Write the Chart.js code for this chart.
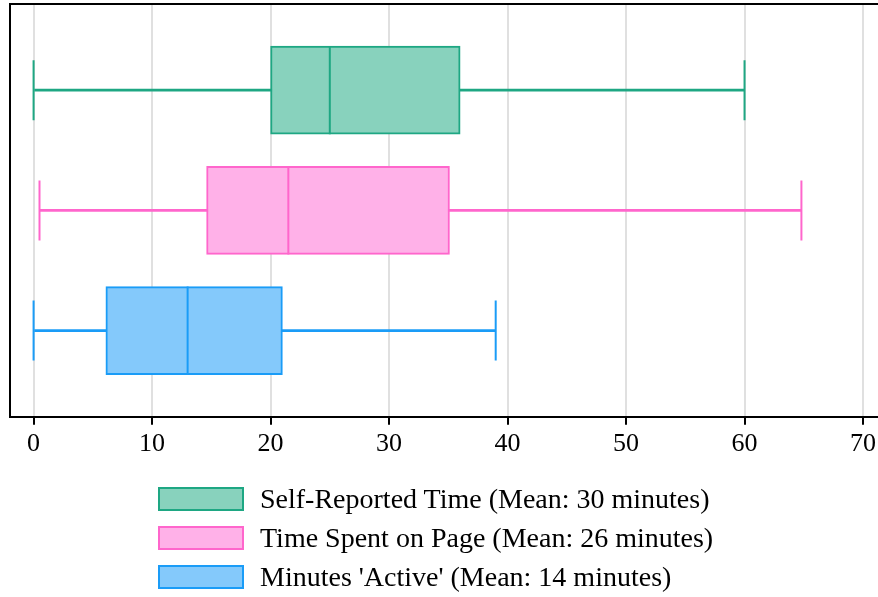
<!DOCTYPE html>
<html>
<head>
<meta charset="utf-8">
<script src="https://cdn.jsdelivr.net/npm/chart.js@4"></script>
<style>
  body { margin: 0; background: #fff; }
  #wrap { position: relative; width: 878px; height: 597px; overflow: hidden; }
  #legend { position: absolute; left: 158px; top: 479px; font-family: "Liberation Serif", serif; font-size: 28px; color: #000; }
  .item { display: flex; align-items: center; height: 39px; }
  .swatch { width: 82px; height: 20px; border: 2px solid; margin-right: 16px; }
</style>
</head>
<body>
<div id="wrap">
  <canvas id="myChart" width="900" height="597"></canvas>
  <div id="legend"></div>
</div>
<script>
const categories = [
  "Self-Reported Time (Mean: 30 minutes)",
  "Time Spent on Page (Mean: 26 minutes)",
  "Minutes 'Active' (Mean: 14 minutes)",
];
const mins = [0, 0.5, 0];
const q1s = [20, 14.6, 6.1];
const medians = [25, 21.5, 13];
const q3s = [36, 35.1, 21];
const maxs = [60, 64.8, 39];
const xTicks = [0, 10, 20, 30, 40, 50, 60, 70];

const fills = ["#88d2bd", "#ffb1e8", "#84c9fb"];
const borders = ["#1ea783", "#ff66cc", "#1a9cf7"];

const font = { family: "'Liberation Serif', serif", size: 26 };

const data = {
  datasets: [
    {
      type: "bar",
      indexAxis: "y",
      grouped: false,
      barThickness: 2,
      data: categories.map((c, i) => ({ x: [mins[i], maxs[i]], y: i })),
      backgroundColor: borders,
      borderWidth: 0,
      order: 3,
    },
    {
      type: "bar",
      indexAxis: "y",
      grouped: false,
      barThickness: 88,
      data: categories.map((c, i) => ({ x: [q1s[i], q3s[i]], y: i })),
      backgroundColor: fills,
      borderColor: borders,
      borderWidth: 2,
      borderSkipped: false,
      order: 2,
    },
    {
      type: "scatter",
      data: categories.map((c, i) => ({ x: medians[i], y: i })),
      pointStyle: "line",
      pointRotation: 90,
      pointRadius: 44,
      pointHoverRadius: 44,
      pointBorderColor: borders,
      pointBorderWidth: 2,
      order: 1,
    },
    {
      type: "scatter",
      data: categories.flatMap((c, i) => [{ x: mins[i], y: i }, { x: maxs[i], y: i }]),
      pointStyle: "line",
      pointRotation: 90,
      pointRadius: 30,
      pointHoverRadius: 30,
      pointBorderColor: categories.flatMap((c, i) => [borders[i], borders[i]]),
      pointBorderWidth: 2,
      order: 1,
    },
  ],
};

const config = {
  type: "bar",
  data: data,
  options: {
    responsive: false,
    animation: false,
    layout: { autoPadding: false, padding: { left: 10, top: 4, right: 0, bottom: 133 } },
    scales: {
      x: {
        type: "linear",
        position: "bottom",
        offset: false,
        min: -1.99,
        max: 73.12,
        afterBuildTicks: (scale) => {
          scale.ticks = xTicks.map((v) => ({ value: v }));
        },
        grid: {
          offset: false,
          color: "#e0e0e0",
          lineWidth: 2,
          drawTicks: true,
          tickLength: 8,
          tickColor: "#000",
          tickWidth: 2,
        },
        border: { display: true, color: "#000", width: 2 },
        ticks: { color: "#000", font: font, padding: 4, maxRotation: 0 },
      },
      x2: {
        type: "linear",
        position: "top",
        offset: false,
        min: -1.99,
        max: 73.12,
        grid: { display: false, drawTicks: false },
        border: { display: true, color: "#000", width: 2 },
        ticks: { display: false },
      },
      y: {
        type: "linear",
        reverse: true,
        offset: false,
        min: -0.717,
        max: 2.717,
        grid: { display: false, drawTicks: false, offset: false },
        border: { display: true, color: "#000", width: 2 },
        ticks: { display: false },
      },
    },
    plugins: {
      legend: { display: false },
      tooltip: { enabled: false },
    },
  },
};

const ctx = document.getElementById("myChart").getContext("2d");
const myChart = new Chart(ctx, config);

function buildLegend() {
  let legend = document.getElementById("legend");
  for (let i = 0; i < categories.length; i++) {
    let item = document.createElement("div");
    item.className = "item";
    let swatch = document.createElement("span");
    swatch.className = "swatch";
    swatch.style.background = fills[i];
    swatch.style.borderColor = borders[i];
    let label = document.createElement("span");
    label.textContent = categories[i];
    item.appendChild(swatch);
    item.appendChild(label);
    legend.appendChild(item);
  }
}

buildLegend();
</script>
</body>
</html>
